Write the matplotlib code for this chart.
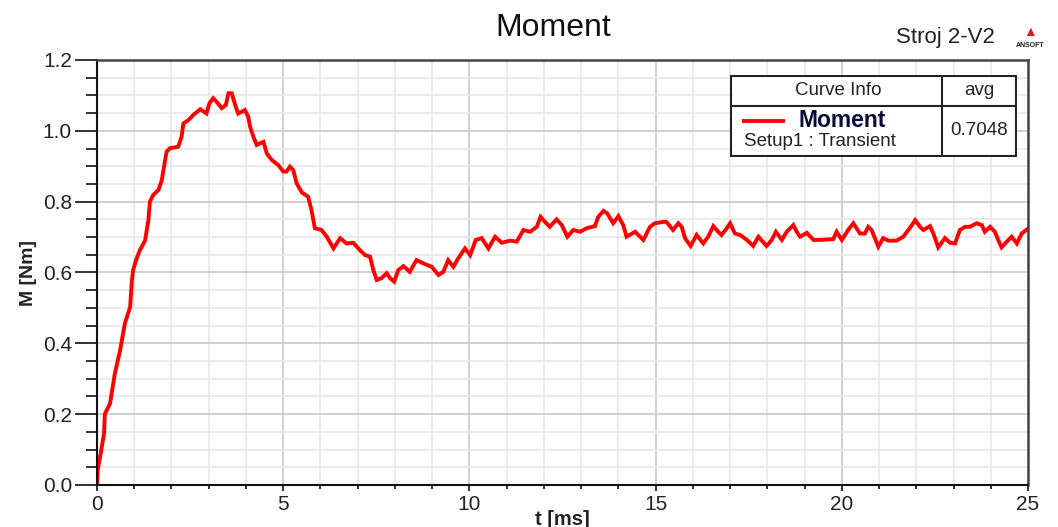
import matplotlib

matplotlib.use("Agg")
import matplotlib.pyplot as plt  # noqa: E402
from matplotlib.patches import Rectangle  # noqa: E402
from matplotlib.ticker import MultipleLocator  # noqa: E402

plt.rcParams["font.family"] = ["Liberation Sans", "DejaVu Sans"]

# values
t_ms = [
    0.00, 0.02, 0.13, 0.19, 0.21, 0.35, 0.48, 0.62, 0.75, 0.89, 0.93, 0.97,
    1.05, 1.15, 1.29, 1.38, 1.42, 1.51, 1.65, 1.74, 1.83, 1.87, 1.96, 2.18,
    2.27, 2.32, 2.45, 2.59, 2.77, 2.94, 3.02, 3.12, 3.21, 3.35, 3.46, 3.53,
    3.62, 3.71, 3.79, 3.89, 3.97, 4.06, 4.11, 4.20, 4.29, 4.38, 4.47, 4.56,
    4.69, 4.87, 5.00, 5.09, 5.18, 5.27, 5.36, 5.50, 5.67, 5.76, 5.85, 6.03,
    6.17, 6.35, 6.53, 6.70, 6.88, 7.06, 7.20, 7.33, 7.42, 7.51, 7.64, 7.78,
    7.87, 7.98, 8.09, 8.23, 8.40, 8.58, 8.76, 8.99, 9.17, 9.30, 9.43, 9.57,
    9.70, 9.88, 10.02, 10.17, 10.33, 10.51, 10.69, 10.87, 11.09, 11.27, 11.45,
    11.63, 11.81, 11.91, 12.03, 12.16, 12.34, 12.48, 12.63, 12.79, 12.97,
    13.15, 13.37, 13.46, 13.60, 13.70, 13.86, 14.00, 14.13, 14.22, 14.45,
    14.67, 14.85, 14.98, 15.21, 15.29, 15.47, 15.61, 15.70, 15.79, 15.94,
    16.10, 16.28, 16.41, 16.55, 16.68, 16.77, 16.91, 17.00, 17.13, 17.27,
    17.45, 17.62, 17.76, 17.98, 18.12, 18.23, 18.39, 18.52, 18.70, 18.79,
    18.88, 19.06, 19.24, 19.42, 19.77, 19.86, 20.00, 20.17, 20.31, 20.49,
    20.62, 20.71, 20.80, 20.98, 21.11, 21.25, 21.47, 21.65, 21.85, 21.97,
    22.10, 22.19, 22.37, 22.46, 22.59, 22.77, 22.91, 23.04, 23.17, 23.31,
    23.44, 23.62, 23.76, 23.84, 23.98, 24.11, 24.20, 24.29, 24.43, 24.56,
    24.70, 24.83, 25.00,
]
moment_nm = [
    0.000, 0.042, 0.108, 0.146, 0.200, 0.230, 0.315, 0.380, 0.457, 0.503, 0.569, 0.607,
    0.635, 0.663, 0.690, 0.748, 0.800, 0.819, 0.833, 0.861, 0.918, 0.941, 0.951, 0.955,
    0.983, 1.021, 1.030, 1.045, 1.061, 1.049, 1.078, 1.092, 1.082, 1.064, 1.073, 1.106,
    1.106, 1.073, 1.049, 1.054, 1.059, 1.040, 1.012, 0.983, 0.960, 0.965, 0.969, 0.936,
    0.918, 0.903, 0.885, 0.885, 0.899, 0.889, 0.852, 0.826, 0.814, 0.776, 0.725, 0.720,
    0.701, 0.668, 0.697, 0.682, 0.684, 0.663, 0.649, 0.645, 0.607, 0.579, 0.584, 0.598,
    0.584, 0.574, 0.607, 0.618, 0.602, 0.635, 0.626, 0.616, 0.593, 0.602, 0.635, 0.616,
    0.640, 0.668, 0.649, 0.692, 0.697, 0.668, 0.701, 0.684, 0.690, 0.687, 0.720,
    0.715, 0.729, 0.757, 0.743, 0.729, 0.750, 0.734, 0.701, 0.720, 0.715,
    0.725, 0.731, 0.757, 0.774, 0.767, 0.739, 0.759, 0.734, 0.701, 0.715,
    0.692, 0.729, 0.739, 0.743, 0.743, 0.720, 0.739, 0.729, 0.697, 0.675,
    0.706, 0.682, 0.701, 0.731, 0.715, 0.706, 0.725, 0.739, 0.710, 0.706,
    0.692, 0.675, 0.701, 0.675, 0.692, 0.715, 0.692, 0.715, 0.734, 0.715,
    0.701, 0.712, 0.692, 0.692, 0.694, 0.715, 0.692, 0.720, 0.739, 0.710,
    0.710, 0.729, 0.720, 0.673, 0.697, 0.690, 0.690, 0.701, 0.729, 0.748,
    0.729, 0.720, 0.731, 0.710, 0.671, 0.697, 0.684, 0.682, 0.720, 0.729,
    0.729, 0.739, 0.734, 0.715, 0.729, 0.715, 0.692, 0.671, 0.687, 0.701,
    0.682, 0.710, 0.724,
]
avg_value = "0.7048"
series_name = "Moment"
setup_name = "Setup1 : Transient"
design_name = "Stroj 2-V2"

W, H = 1058, 527
fig = plt.figure(figsize=(W / 100, H / 100), dpi=100)
ax = fig.add_axes([97 / W, 1 - 485 / H, 931 / W, 425 / H])

ax.plot(t_ms, moment_nm, color="#ff0000", lw=2.8, solid_joinstyle="miter")

ax.set_xlim(0, 25)
ax.set_ylim(0, 1.2)
ax.xaxis.set_major_locator(MultipleLocator(5))
ax.xaxis.set_minor_locator(MultipleLocator(1))
ax.yaxis.set_major_locator(MultipleLocator(0.2))
ax.yaxis.set_minor_locator(MultipleLocator(0.05))
ax.yaxis.set_major_formatter(plt.FuncFormatter(lambda v, _: f"{v:.1f}"))
ax.xaxis.set_major_formatter(plt.FuncFormatter(lambda v, _: f"{v:g}"))

ax.grid(which="major", color="#c8c8c8", lw=1.2)
ax.grid(which="minor", color="#e8e8e8", lw=1.2)
ax.set_axisbelow(True)

ax.tick_params(axis="y", which="major", length=16, width=1.3, direction="out",
               labelsize=15, colors="#222222", pad=2)
ax.tick_params(axis="y", which="minor", length=8, width=1.3, direction="out", color="#222222")
ax.tick_params(axis="x", which="major", length=4, width=1.3, direction="out",
               labelsize=15, colors="#222222", pad=3)
ax.tick_params(axis="x", which="minor", length=3, width=1.3, direction="out", color="#222222")

for side in ("left", "bottom"):
    ax.spines[side].set_color("#111111")
    ax.spines[side].set_linewidth(1.5)
for side in ("top", "right"):
    ax.spines[side].set_color("#444444")
    ax.spines[side].set_linewidth(1.8)

ax.set_xlabel("t [ms]", fontsize=14.5, fontweight="bold", color="#222222", labelpad=-3)
ax.set_ylabel("M [Nm]", fontsize=14, fontweight="bold", color="#222222", labelpad=4)

fig.text(553 / W, 1 - 28 / H, series_name, ha="center", va="center", fontsize=23, color="#111111")
fig.text(945 / W, 1 - 37 / H, design_name, ha="center", va="center", fontsize=16, color="#222222")
# ANSOFT logo mark
fig.text(1030 / W, 1 - 32 / H, "\u25b2", ha="center", va="center", fontsize=10, color="#d02020")
fig.text(1030 / W, 1 - 45 / H, "ANSOFT", ha="center", va="center", fontsize=5,
         fontweight="bold", color="#222222")

# curve info table
leg = fig.add_axes([730 / W, 1 - 157 / H, 287 / W, 82 / H])
leg.set_xlim(0, 287)
leg.set_ylim(82, 0)
leg.axis("off")
leg.add_patch(Rectangle((1, 1), 285, 80, facecolor="white", edgecolor="#222222", lw=1.5))
leg.plot([1, 286], [31, 31], color="#222222", lw=1.5)
leg.plot([212, 212], [1, 81], color="#222222", lw=1.5)
leg.text(108, 16, "Curve Info", ha="center", va="center", fontsize=13.5, color="#222222")
leg.text(249, 16, "avg", ha="center", va="center", fontsize=13.5, color="#222222")
leg.plot([14, 53], [46, 46], color="#ff0000", lw=2.8)
leg.text(112, 46, series_name, ha="center", va="center", fontsize=16.5,
         fontweight="bold", color="#0a0a3a")
leg.text(14, 67, setup_name, ha="left", va="center", fontsize=13.5, color="#222222")
leg.text(249, 56, avg_value, ha="center", va="center", fontsize=13.5, color="#222222")

fig.savefig("out.png", dpi=100)
